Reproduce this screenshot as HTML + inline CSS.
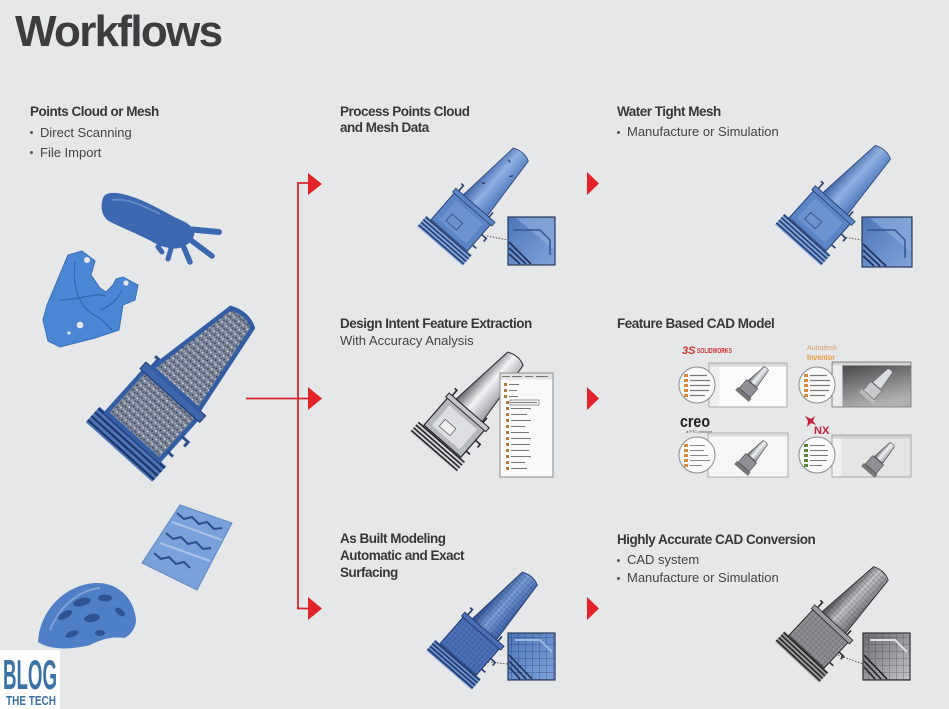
<!DOCTYPE html>
<html><head><meta charset="utf-8">
<style>
html,body{margin:0;padding:0;}
body{width:949px;height:709px;background:#e6e7e9;position:relative;overflow:hidden;font-family:"Liberation Sans",sans-serif;color:#3a3a3c;}
.t{position:absolute;white-space:nowrap;line-height:17px;}
.b{font-weight:bold;font-size:13.5px;letter-spacing:-0.5px;color:#38383a;}
.r{font-size:13px;color:#444446;}
.bul{position:absolute;width:3px;height:3px;border-radius:50%;background:#555;}
svg{position:absolute;left:0;top:0;}
</style></head><body>
<svg width="949" height="709" viewBox="0 0 949 709">
<defs>
<linearGradient id="gB" x1="0" x2="1" y1="0" y2="0"><stop offset="0" stop-color="#3f66a8"/><stop offset=".45" stop-color="#8fb1e2"/><stop offset="1" stop-color="#4d78bb"/></linearGradient>
<linearGradient id="gS" x1="0" x2="1" y1="0" y2="0"><stop offset="0" stop-color="#5e6166"/><stop offset=".45" stop-color="#f2f3f5"/><stop offset="1" stop-color="#9a9da2"/></linearGradient>
<linearGradient id="gG" x1="0" x2="1" y1="0" y2="0"><stop offset="0" stop-color="#4a4b4e"/><stop offset=".45" stop-color="#c4c5c8"/><stop offset="1" stop-color="#6e7074"/></linearGradient>
<linearGradient id="gM" x1="0" x2="1" y1="0" y2="0"><stop offset="0" stop-color="#2c4c8e"/><stop offset=".45" stop-color="#7a9fd8"/><stop offset="1" stop-color="#3a5fa4"/></linearGradient>
<linearGradient id="gDark" x1="0" x2="0.4" y1="0" y2="1"><stop offset="0" stop-color="#3c3c3e"/><stop offset="1" stop-color="#b0b0b2"/></linearGradient>
<linearGradient id="gIn" x1="0" x2="1" y1="0" y2="1"><stop offset="0" stop-color="#4c76b8"/><stop offset="1" stop-color="#7fa4d9"/></linearGradient>
<linearGradient id="gInG" x1="0" x2="1" y1="0" y2="1"><stop offset="0" stop-color="#6a6c70"/><stop offset="1" stop-color="#c2c4c8"/></linearGradient>
<pattern id="grid" width="4" height="4" patternUnits="userSpaceOnUse"><path d="M0,0H4M0,0V4" stroke="#1c3163" stroke-width=".6" opacity=".7"/></pattern>
<pattern id="gridG" width="4" height="4" patternUnits="userSpaceOnUse"><path d="M0,0H4M0,0V4" stroke="#2a2a2a" stroke-width=".6" opacity=".6"/></pattern>
<pattern id="grid2" width="7" height="7" patternUnits="userSpaceOnUse"><path d="M0,0H7M0,0V7" stroke="#1c3163" stroke-width=".8" opacity=".7"/></pattern>
<pattern id="grid2G" width="7" height="7" patternUnits="userSpaceOnUse"><path d="M0,0H7M0,0V7" stroke="#2a2a2a" stroke-width=".8" opacity=".6"/></pattern>
<pattern id="speck" width="4" height="4" patternUnits="userSpaceOnUse"><rect width="4" height="4" fill="#7a8393"/><circle cx="1" cy="1" r=".6" fill="#dfe3ea"/><circle cx="3" cy="2.6" r=".55" fill="#23335a"/><circle cx="3.3" cy=".6" r=".45" fill="#c3c9d3"/><circle cx="1.2" cy="3.3" r=".45" fill="#33466e"/></pattern>
</defs>

<!-- ===== connectors ===== -->
<path d="M298,183V609 M297,183H309 M246,398.5H309 M297,608.5H309" stroke="#d9272e" stroke-width="1.8" fill="none"/>
<g fill="#e2232a">
<polygon points="308,173 322,184 308,195"/>
<polygon points="308,387 322,398.5 308,410"/>
<polygon points="308,597 322,608.5 308,620"/>
<polygon points="587,172 599,183.5 587,195"/>
<polygon points="587,387 599,398.5 587,410"/>
<polygon points="587,597 599,608.5 587,620"/>
</g>

<!-- ===== left column objects ===== -->
<!-- hand -->
<g fill="#3b68b0" stroke="#3b68b0" stroke-linecap="round" stroke-linejoin="round">
<path d="M103,200 C104,192 115,192 128,196 C145,201 160,210 175,218 C185,222 192,226 194,232 C194,240 186,247 176,248 C165,248 157,244 150,240 C135,232 118,226 108,220 C102,215 101,206 103,200 Z" stroke-width="1"/>
<path d="M186,229 L219,232" stroke-width="6" fill="none"/>
<path d="M188,238 L212,256" stroke-width="5.5" fill="none"/>
<path d="M182,243 L190,262" stroke-width="5.5" fill="none"/>
<path d="M172,245 L168,259" stroke-width="5" fill="none"/>
<path d="M162,240 L158,247 L162,252" stroke-width="5" fill="none"/>
</g>
<path d="M112,200 C125,198 140,204 160,214" stroke="#6f96d0" stroke-width="2" fill="none" opacity=".7"/>
<!-- bracket -->
<path d="M47,305 L68,255 L82,251 L95,261 L91,275 L100,288 L106,292 L113,285 L116,279 L123,277 L138,285 L135,300 L123,305 L119,330 L95,338 L60,347 L48,341 L43,320 Z" fill="#4a86d3" stroke="#3a6fb8" stroke-width="1"/>
<path d="M60,300 C80,300 95,292 105,296 M75,262 C72,290 80,310 100,318 L112,330 M122,290 C118,300 110,306 100,310" stroke="#3468b0" stroke-width="1.3" fill="none"/>
<circle cx="87" cy="260" r="3" fill="#e6e7e9"/><circle cx="126" cy="283" r="2.6" fill="#e6e7e9"/><circle cx="80" cy="325" r="3.3" fill="#e6e7e9"/><circle cx="69" cy="333" r="1.6" fill="#e6e7e9"/>
<!-- big blade (point cloud) -->
<g transform="translate(119,452) rotate(42) scale(1.49)">
 <rect x="-30" y="-14" width="60" height="14" fill="#4b74b8"/>
 <path d="M-30,-2h60M-30,-5.5h60M-30,-9h60M-30,-12.5h60" stroke="#1d3263" stroke-width="1.4"/>
 <rect x="-24" y="-52" width="48" height="38" fill="url(#speck)" stroke="#335ea6" stroke-width="3"/>
 <rect x="-27" y="-57" width="54" height="6" fill="#3d67ad" stroke="#1d3263" stroke-width=".6"/>
 <path d="M-22,-57v-7h-3 M18,-57v-6 M24,-36h6v4 M24,-22h5" stroke="#2d4f8e" stroke-width="2" fill="none"/>
 <path d="M-21,-57 L21,-57 L11,-122 Q2,-127 -9,-122 Z" fill="url(#speck)" stroke="#335ea6" stroke-width="3"/>
</g>
<!-- tire tread -->
<path d="M180,505 L232,523 L197,590 L142,563 Z" fill="#7aa2da" stroke="#6088c4" stroke-width="1"/>
<path d="M177,513 l7,6 l8,-2 l7,7 l8,-2 l7,7 l8,-1 M166,533 l7,6 l8,-2 l7,7 l8,-2 l7,7 l8,-1 M154,553 l7,6 l8,-2 l7,7 l8,-2 l6,6" stroke="#2c4f8c" stroke-width="2" fill="none"/>
<path d="M172,522 L222,540 M160,543 L210,561" stroke="#a8c2e8" stroke-width="2" fill="none"/>
<!-- helmet -->
<path d="M38,642 C40,610 65,585 95,583 C118,582 134,598 136,620 C136,628 130,636 124,638 C110,636 100,640 90,645 C70,650 50,650 38,642 Z" fill="#4f7fc6"/>
<g fill="#2d5596">
<ellipse cx="82" cy="602" rx="9" ry="4" transform="rotate(-15 82 602)"/>
<ellipse cx="105" cy="598" rx="7" ry="3.5"/>
<ellipse cx="65" cy="615" rx="8" ry="3.5" transform="rotate(-30 65 615)"/>
<ellipse cx="92" cy="618" rx="8" ry="4" transform="rotate(-10 92 618)"/>
<ellipse cx="120" cy="612" rx="6" ry="3" transform="rotate(40 120 612)"/>
<ellipse cx="72" cy="634" rx="7" ry="3" transform="rotate(-20 72 634)"/>
<ellipse cx="100" cy="633" rx="5" ry="3"/>
</g>
<path d="M50,630 C60,605 80,590 100,588" stroke="#7da3da" stroke-width="2" fill="none"/>
<!-- blog logo -->
<rect x="0" y="650" width="60" height="59" fill="#ffffff"/>
<text x="3" y="689" font-family="Liberation Sans, sans-serif" font-weight="bold" font-size="42" fill="#3b72a6" textLength="54" lengthAdjust="spacingAndGlyphs">BLOG</text>
<text x="6" y="705" font-family="Liberation Sans, sans-serif" font-weight="bold" font-size="13" fill="#3b72a6" textLength="50" lengthAdjust="spacingAndGlyphs">THE TECH</text>

<!-- ===== middle column ===== -->
<!-- top: blue mesh blade -->
<g transform="translate(440,246) rotate(41)">
 <rect x="-30" y="-14" width="60" height="14" fill="#7fa3d8"/>
 <path d="M-30,-2h60M-30,-5.5h60M-30,-9h60M-30,-12.5h60" stroke="#24396a" stroke-width="1.5"/>
 <rect x="-24" y="-50" width="48" height="36" fill="#5a85c6" stroke="#2a4270" stroke-width="1"/>
 <rect x="-18" y="-45" width="36" height="26" fill="#6b93cf"/>
 <rect x="-12" y="-32" width="14" height="9" fill="none" stroke="#2a4270" stroke-width=".7"/>
 <rect x="-26" y="-54" width="52" height="5" fill="#5a85c6" stroke="#2a4270" stroke-width=".8"/>
 <path d="M-22,-54v-7h-3 M18,-54v-6 M24,-36h6v4 M24,-22h5" stroke="#2a4270" stroke-width="1.6" fill="none"/>
 <path d="M-16,-54 L16,-54 L11,-122 Q2,-127 -9,-122 Z" fill="url(#gB)" stroke="#2a4270" stroke-width=".8"/>
 <path d="M-10,-75 l3,-2 M7,-98 l2,-3 M-5,-110 l3,1" stroke="#1c2c50" stroke-width="1.2"/>
</g>
<path d="M487,236 L508,240" stroke="#555" stroke-width="1" stroke-dasharray="1.5,1.5"/>
<rect x="508" y="217" width="47" height="48" fill="url(#gIn)" stroke="#2b3b5c" stroke-width="1.2"/>
<path d="M516,218 L554,218 L554,250 Z" fill="#8fb0df" opacity=".6"/>
<path d="M513,230 L540,230 L550,240 L550,255" stroke="#34558f" stroke-width="1.5" fill="none"/>
<path d="M509,242 L531,264 M509,248 L526,264 M509,254 L520,264" stroke="#1f2f55" stroke-width="1.6"/>

<!-- middle: silver blade + tree panel -->
<g transform="translate(433,452) rotate(41) scale(1.02)">
 <rect x="-30" y="-14" width="60" height="14" fill="#d0d2d6"/>
 <path d="M-30,-2h60M-30,-5.5h60M-30,-9h60M-30,-12.5h60" stroke="#222" stroke-width="1.5"/>
 <rect x="-24" y="-50" width="48" height="36" fill="#b5b8bd" stroke="#2a2a2c" stroke-width="1.2"/>
 <rect x="-18" y="-45" width="36" height="26" fill="#dcdee1"/>
 <rect x="-12" y="-32" width="14" height="9" fill="#eee" stroke="#555" stroke-width=".7"/>
 <rect x="-26" y="-54" width="52" height="5" fill="#c4c6ca" stroke="#2a2a2c" stroke-width="1"/>
 <path d="M-22,-54v-7h-3 M18,-54v-6 M24,-36h6v4 M24,-22h5" stroke="#2a2a2c" stroke-width="1.6" fill="none"/>
 <path d="M-17,-54 L17,-54 L11,-122 Q2,-127 -9,-122 Z" fill="url(#gS)" stroke="#2a2a2c" stroke-width="1"/>
</g>
<rect x="500" y="373" width="53" height="104" fill="#f9f9f9" stroke="#8a8a8a" stroke-width="1"/>
<rect x="500.5" y="373.5" width="52" height="6" fill="#e2e2e2"/>
<path d="M502,376.5h8 M512,376.5h10 M525,376.5h8 M536,376.5h12" stroke="#777" stroke-width="1"/>
<g fill="#b07a3a">
<rect x="504" y="383" width="3" height="3"/><rect x="504" y="389" width="3" height="3"/><rect x="504" y="395" width="3" height="3"/><rect x="506" y="401" width="3" height="3"/><rect x="506" y="407" width="3" height="3"/><rect x="506" y="413" width="3" height="3"/><rect x="506" y="419" width="3" height="3"/><rect x="506" y="425" width="3" height="3"/><rect x="506" y="431" width="3" height="3"/><rect x="506" y="437" width="3" height="3"/><rect x="506" y="443" width="3" height="3"/><rect x="506" y="449" width="3" height="3"/><rect x="506" y="455" width="3" height="3"/><rect x="506" y="461" width="3" height="3"/><rect x="506" y="467" width="3" height="3"/>
</g>
<path d="M509,384.5h10 M509,390.5h8 M509,396.5h9 M511,402.5h26 M511,408.5h20 M511,414.5h16 M511,420.5h20 M511,426.5h14 M511,432.5h18 M511,438.5h20 M511,444.5h19 M511,450.5h18 M511,456.5h20 M511,462.5h14 M511,468.5h16" stroke="#777" stroke-width="1.1"/>
<rect x="510" y="400" width="29" height="5" fill="none" stroke="#555" stroke-width=".6"/>

<!-- bottom: blue surfaced blade -->
<g transform="translate(449,670) rotate(41)">
 <rect x="-30" y="-14" width="60" height="14" fill="#6c8fcc"/>
 <path d="M-30,-2h60M-30,-5.5h60M-30,-9h60M-30,-12.5h60" stroke="#1d3466" stroke-width="1.5"/>
 <rect x="-24" y="-50" width="48" height="36" fill="#4a70b8" stroke="#1d3466" stroke-width="1"/>
 <rect x="-24" y="-50" width="48" height="36" fill="url(#grid)"/>
 <rect x="-26" y="-54" width="52" height="5" fill="#4a70b8" stroke="#1d3466" stroke-width=".8"/>
 <path d="M-22,-54v-7h-3 M18,-54v-6 M24,-36h6v4 M24,-22h5" stroke="#1d3466" stroke-width="1.6" fill="none"/>
 <path d="M-16,-54 L16,-54 L11,-122 Q2,-127 -9,-122 Z" fill="url(#gM)" stroke="#1d3466" stroke-width=".8"/>
 <path d="M-16,-54 L16,-54 L11,-122 Q2,-127 -9,-122 Z" fill="url(#grid)"/>
</g>
<path d="M488,662 L508,664" stroke="#555" stroke-width="1" stroke-dasharray="1.5,1.5"/>
<rect x="508" y="633" width="47" height="47" fill="url(#gIn)" stroke="#2b3b5c" stroke-width="1.2"/>
<rect x="508.6" y="633.6" width="45.8" height="45.8" fill="url(#grid2)"/>
<path d="M509,655 L532,679 M509,661 L526,679 M509,667 L520,679" stroke="#1f2f55" stroke-width="1.6"/>
<path d="M515,640 L540,640 L552,652" stroke="#9ab8e4" stroke-width="2" fill="none"/>

<!-- ===== right column ===== -->
<!-- top watertight blade -->
<g transform="translate(798,245) rotate(42) scale(1.03)">
 <rect x="-30" y="-14" width="60" height="14" fill="#7fa3d8"/>
 <path d="M-30,-2h60M-30,-5.5h60M-30,-9h60M-30,-12.5h60" stroke="#24396a" stroke-width="1.5"/>
 <rect x="-24" y="-50" width="48" height="36" fill="#5a85c6" stroke="#2a4270" stroke-width="1"/>
 <rect x="-18" y="-45" width="36" height="26" fill="#6b93cf"/>
 <rect x="-12" y="-32" width="14" height="9" fill="none" stroke="#2a4270" stroke-width=".7"/>
 <rect x="-26" y="-54" width="52" height="5" fill="#5a85c6" stroke="#2a4270" stroke-width=".8"/>
 <path d="M-22,-54v-7h-3 M18,-54v-6 M24,-36h6v4 M24,-22h5" stroke="#2a4270" stroke-width="1.6" fill="none"/>
 <path d="M-16,-54 L16,-54 L11,-122 Q2,-127 -9,-122 Z" fill="url(#gB)" stroke="#2a4270" stroke-width=".8"/>
</g>
<path d="M843,237 L862,240" stroke="#555" stroke-width="1" stroke-dasharray="1.5,1.5"/>
<rect x="862" y="217" width="50" height="50" fill="url(#gIn)" stroke="#2b3b5c" stroke-width="1.2"/>
<path d="M870,218 L911,218 L911,252 Z" fill="#8fb0df" opacity=".6"/>
<path d="M867,230 L895,230 L905,240 L905,258" stroke="#34558f" stroke-width="1.5" fill="none"/>
<path d="M863,244 L886,266 M863,250 L880,266 M863,256 L874,266" stroke="#1f2f55" stroke-width="1.6"/>

<!-- CAD panels -->
<!-- solidworks -->
<text x="682" y="354" font-family="Liberation Sans, sans-serif" font-weight="bold" font-style="italic" font-size="11" fill="#d0312d">3S</text>
<text x="697" y="353" font-family="Liberation Sans, sans-serif" font-weight="bold" font-size="7" fill="#d0312d" textLength="35" lengthAdjust="spacingAndGlyphs">SOLIDWORKS</text>
<rect x="709" y="363" width="78" height="44" fill="#fbfbfb" stroke="#9a9a9a" stroke-width=".8"/>
<rect x="709.5" y="363.5" width="77" height="3" fill="#d8d8d8"/>
<rect x="709.5" y="366.5" width="10" height="40" fill="#efefef"/>
<g transform="translate(742,396) rotate(41) scale(.3)">
 <rect x="-30" y="-14" width="60" height="14" fill="#777"/>
 <rect x="-24" y="-52" width="48" height="38" fill="#8e9095" stroke="#444" stroke-width="2"/>
 <path d="M-18,-54 L18,-54 L11,-122 Q2,-127 -9,-122 Z" fill="url(#gS)" stroke="#444" stroke-width="2"/>
</g>
<circle cx="697" cy="385" r="18" fill="#fafafa" stroke="#8c8c8c" stroke-width="1"/>
<g fill="#d98b3a"><rect x="684" y="374" width="4" height="3"/><rect x="684" y="379" width="4" height="3"/><rect x="684" y="384" width="4" height="3"/><rect x="684" y="389" width="4" height="3"/><rect x="684" y="394" width="4" height="3"/></g>
<path d="M690,375.5h17 M690,380.5h20 M690,385.5h20 M690,390.5h19 M690,395.5h15" stroke="#7a7a7a" stroke-width="1.2"/>

<!-- inventor -->
<text x="807" y="350" font-family="Liberation Sans, sans-serif" font-size="7.5" fill="#e2a062" textLength="30" lengthAdjust="spacingAndGlyphs">Autodesk</text>
<text x="807" y="360" font-family="Liberation Sans, sans-serif" font-weight="bold" font-size="8" fill="#e59a45" textLength="28" lengthAdjust="spacingAndGlyphs">Inventor</text>
<rect x="832" y="362" width="79" height="45" fill="url(#gDark)" stroke="#777" stroke-width=".8"/>
<rect x="832.5" y="362.5" width="78" height="3" fill="#d6d6d6"/>
<rect x="832.5" y="365.5" width="10" height="41" fill="#ececec"/>
<g transform="translate(866,398) rotate(41) scale(.3)">
 <rect x="-30" y="-14" width="60" height="14" fill="#bbb"/>
 <rect x="-24" y="-52" width="48" height="38" fill="#c8c9cc" stroke="#666" stroke-width="2"/>
 <path d="M-18,-54 L18,-54 L11,-122 Q2,-127 -9,-122 Z" fill="#dcdde0" stroke="#666" stroke-width="2"/>
</g>
<circle cx="817" cy="385" r="18" fill="#fafafa" stroke="#8c8c8c" stroke-width="1"/>
<g fill="#d98b3a"><rect x="804" y="374" width="4" height="3"/><rect x="804" y="379" width="4" height="3"/><rect x="804" y="384" width="4" height="3"/><rect x="804" y="389" width="4" height="3"/><rect x="804" y="394" width="4" height="3"/></g>
<path d="M810,375.5h17 M810,380.5h20 M810,385.5h20 M810,390.5h19 M810,395.5h15" stroke="#7a7a7a" stroke-width="1.2"/>

<!-- creo -->
<text x="680" y="427" font-family="Liberation Sans, sans-serif" font-weight="bold" font-size="17" fill="#222" textLength="30" lengthAdjust="spacingAndGlyphs">creo</text>
<text x="686" y="433" font-family="Liberation Sans, sans-serif" font-size="4" fill="#444">a PTC product</text>
<rect x="708" y="433" width="80" height="44" fill="#f6f6f6" stroke="#a0a0a0" stroke-width=".8"/>
<rect x="708.5" y="433.5" width="79" height="3" fill="#dcdcdc"/>
<g transform="translate(741,470) rotate(41) scale(.3)">
 <rect x="-30" y="-14" width="60" height="14" fill="#777"/>
 <rect x="-24" y="-52" width="48" height="38" fill="#8e9095" stroke="#444" stroke-width="2"/>
 <path d="M-18,-54 L18,-54 L11,-122 Q2,-127 -9,-122 Z" fill="url(#gS)" stroke="#444" stroke-width="2"/>
</g>
<circle cx="697" cy="455" r="18" fill="#fafafa" stroke="#8c8c8c" stroke-width="1"/>
<g fill="#d98b3a"><rect x="684" y="444" width="4" height="3"/><rect x="684" y="449" width="4" height="3"/><rect x="684" y="454" width="4" height="3"/><rect x="684" y="459" width="4" height="3"/><rect x="684" y="464" width="4" height="3"/></g>
<path d="M690,445.5h15 M690,450.5h14 M690,455.5h18 M690,460.5h20 M690,465.5h12" stroke="#8a8a8a" stroke-width="1.1"/>

<!-- NX -->
<path d="M805,416 L811,419 L815,416 L813,421 L816,425 L811,423 L807,427 L808,421 Z" fill="#c8203a"/>
<text x="814" y="434" font-family="Liberation Sans, sans-serif" font-weight="bold" font-size="11" fill="#c8203a">NX</text>
<rect x="832" y="435" width="79" height="42" fill="#e4e4e4" stroke="#999" stroke-width=".8"/>
<rect x="832.5" y="435.5" width="78" height="3" fill="#d0d0d0"/>
<rect x="832.5" y="438.5" width="9" height="38" fill="#f2f2f2"/>
<g transform="translate(868,472) rotate(41) scale(.3)">
 <rect x="-30" y="-14" width="60" height="14" fill="#777"/>
 <rect x="-24" y="-52" width="48" height="38" fill="#8e9095" stroke="#444" stroke-width="2"/>
 <path d="M-18,-54 L18,-54 L11,-122 Q2,-127 -9,-122 Z" fill="url(#gS)" stroke="#444" stroke-width="2"/>
</g>
<circle cx="817" cy="455" r="18" fill="#fafafa" stroke="#8c8c8c" stroke-width="1"/>
<g fill="#5a8a3a"><rect x="804" y="444" width="4" height="3"/><rect x="804" y="449" width="4" height="3"/><rect x="804" y="454" width="4" height="3"/><rect x="804" y="459" width="4" height="3"/><rect x="804" y="464" width="4" height="3"/></g>
<path d="M810,445.5h15 M810,450.5h18 M810,455.5h18 M810,460.5h17 M810,465.5h12" stroke="#7a7a7a" stroke-width="1.1"/>

<!-- bottom: gray CAD blade -->
<g transform="translate(797,662) rotate(43)">
 <rect x="-30" y="-14" width="60" height="14" fill="#9a9b9e"/>
 <path d="M-30,-2h60M-30,-5.5h60M-30,-9h60M-30,-12.5h60" stroke="#222" stroke-width="1.5"/>
 <rect x="-24" y="-50" width="48" height="36" fill="#8d8f93" stroke="#2a2a2a" stroke-width="1"/>
 <rect x="-24" y="-50" width="48" height="36" fill="url(#gridG)"/>
 <rect x="-26" y="-54" width="52" height="5" fill="#9a9ca0" stroke="#2a2a2a" stroke-width=".8"/>
 <path d="M-22,-54v-7h-3 M18,-54v-6 M24,-36h6v4 M24,-22h5" stroke="#2a2a2a" stroke-width="1.6" fill="none"/>
 <path d="M-16,-54 L16,-54 L11,-122 Q2,-127 -9,-122 Z" fill="url(#gG)" stroke="#2a2a2a" stroke-width=".8"/>
 <path d="M-16,-54 L16,-54 L11,-122 Q2,-127 -9,-122 Z" fill="url(#gridG)"/>
</g>
<path d="M838,655 L863,664" stroke="#555" stroke-width="1" stroke-dasharray="1.5,1.5"/>
<rect x="863" y="633" width="47" height="47" fill="url(#gInG)" stroke="#333" stroke-width="1.2"/>
<rect x="863.6" y="633.6" width="45.8" height="45.8" fill="url(#grid2G)"/>
<path d="M864,655 L887,679 M864,661 L881,679 M864,667 L875,679" stroke="#222" stroke-width="1.6"/>
<path d="M870,640 L895,640 L907,652" stroke="#e0e0e0" stroke-width="2" fill="none"/>
</svg>

<div class="t" style="left:15px;top:7px;font-size:44px;line-height:50px;font-weight:bold;letter-spacing:-1.7px;color:#3d3d40">Workflows</div>

<div class="t b" style="left:30px;top:103px">Points Cloud or Mesh</div>
<div class="bul" style="left:30px;top:131px"></div>
<div class="t r" style="left:40px;top:123.5px">Direct Scanning</div>
<div class="bul" style="left:30px;top:151px"></div>
<div class="t r" style="left:40px;top:143.5px">File Import</div>

<div class="t b" style="left:340px;top:103px">Process Points Cloud</div>
<div class="t b" style="left:340px;top:119px">and Mesh Data</div>

<div class="t b" style="left:617px;top:103px">Water Tight Mesh</div>
<div class="bul" style="left:617px;top:131px"></div>
<div class="t r" style="left:627px;top:123px">Manufacture or Simulation</div>

<div class="t b" style="left:340px;top:315px">Design Intent Feature Extraction</div>
<div class="t r" style="left:340px;top:332px">With Accuracy Analysis</div>

<div class="t b" style="left:617px;top:315px">Feature Based CAD Model</div>

<div class="t b" style="left:340px;top:530px">As Built Modeling</div>
<div class="t b" style="left:340px;top:546.5px">Automatic and Exact</div>
<div class="t b" style="left:340px;top:563.5px">Surfacing</div>

<div class="t b" style="left:617px;top:531px">Highly Accurate CAD Conversion</div>
<div class="bul" style="left:617px;top:559px"></div>
<div class="t r" style="left:627px;top:551px">CAD system</div>
<div class="bul" style="left:617px;top:576.5px"></div>
<div class="t r" style="left:627px;top:568.5px">Manufacture or Simulation</div>
</body></html>
